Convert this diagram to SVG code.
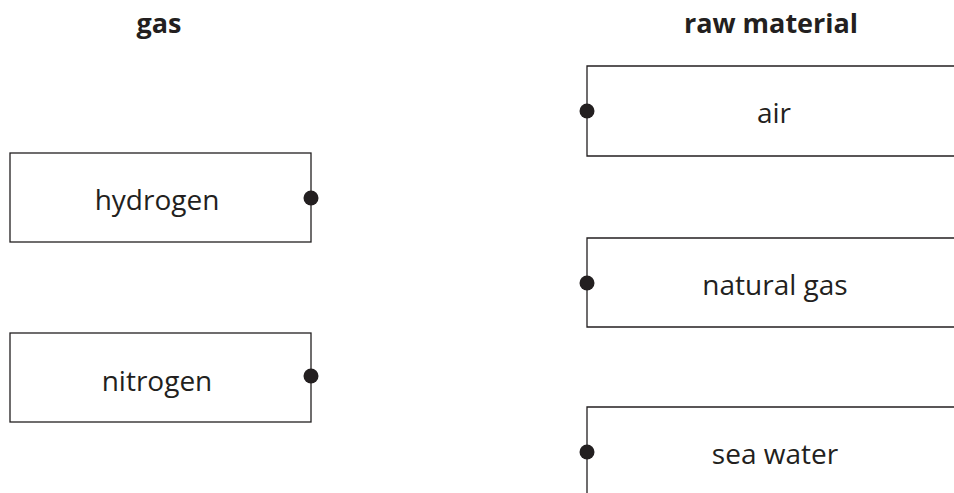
<svg xmlns="http://www.w3.org/2000/svg" width="954" height="493" viewBox="0 0 954 493">
<style>
.box{fill:#fff;stroke:#231f20;stroke-width:1.3}
.dot{fill:#231f20}
.lbl{font-family:"Open Sans","Liberation Sans",sans-serif;font-size:28px;fill:#231f20;text-anchor:middle}
.hdr{font-family:"Open Sans","Liberation Sans",sans-serif;font-size:27px;font-weight:bold;fill:#231f20;text-anchor:middle}
</style>
<rect width="954" height="493" fill="#fff"/>
<text class="hdr" x="159" y="33">gas</text>
<text class="hdr" x="771" y="33">raw material</text>
<g id="hydrogen">
<rect class="box" x="10" y="153" width="301" height="89"/>
<circle class="dot" cx="311" cy="198" r="7.5"/>
<text class="lbl" x="157" y="210">hydrogen</text>
</g>
<g id="nitrogen">
<rect class="box" x="10" y="333" width="301" height="89"/>
<circle class="dot" cx="311" cy="376" r="7.5"/>
<text class="lbl" x="157" y="391">nitrogen</text>
</g>
<g id="air">
<path class="box" d="M956 66H587V156H956"/>
<circle class="dot" cx="587" cy="111" r="7.5"/>
<text class="lbl" x="774" y="123">air</text>
</g>
<g id="natural-gas">
<path class="box" d="M956 238H587V327H956"/>
<circle class="dot" cx="587" cy="283" r="7.5"/>
<text class="lbl" x="775" y="295">natural gas</text>
</g>
<g id="sea-water">
<path class="box" d="M956 407H587V495"/>
<circle class="dot" cx="587" cy="452" r="7.5"/>
<text class="lbl" x="775" y="464">sea water</text>
</g>
<g id="connectors"/>
</svg>
